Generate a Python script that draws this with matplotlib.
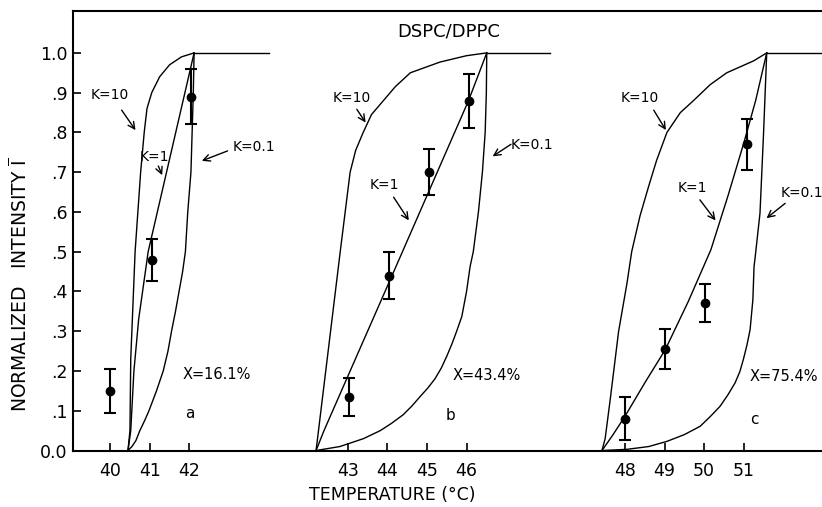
import matplotlib
matplotlib.use("Agg")
import matplotlib.pyplot as plt

# Three panels share one temperature axis; each panel is shifted along it
offset_a, offset_b, offset_c = 0.0, 3.0, 5.0

# Panel a (X = 16.1%): calculated curves for K = 10, 1, 0.1
a_k10_t = [40.45, 40.5, 40.52, 40.63, 40.77, 40.86, 40.93, 41.05, 41.25, 41.5, 41.8, 42.12]
a_k10_i = [0, 0.05, 0.23, 0.5, 0.7, 0.8, 0.86, 0.9, 0.94, 0.97, 0.99, 1.0]
a_k1_t = [40.45, 40.52, 40.6, 40.72, 40.96, 42.12]
a_k1_i = [0, 0.05, 0.2, 0.33, 0.5, 1.0]
a_k01_t = [40.45, 40.55, 40.65, 40.75, 40.87, 40.98, 41.17, 41.34, 41.46, 41.55,
           41.65, 41.74, 41.83, 41.9, 41.96, 42.04, 42.07, 42.1, 42.12]
a_k01_i = [0, 0.01, 0.025, 0.05, 0.075, 0.1, 0.15, 0.2, 0.25, 0.3,
           0.35, 0.4, 0.45, 0.5, 0.6, 0.7, 0.8, 0.9, 1.0]
a_plateau_end = 44.0
a_meas_t = [40.0, 41.05, 42.05]
a_meas_i = [0.15, 0.48, 0.89]
a_meas_err = [0.055, 0.053, 0.07]

# Panel b (X = 43.4%)
b_k10_t = [42.2, 42.81, 43.06, 43.2, 43.39, 43.6, 43.9, 44.2, 44.58, 45.33, 46.0, 46.51]
b_k10_i = [0, 0.5, 0.7, 0.755, 0.8, 0.845, 0.88, 0.915, 0.95, 0.977, 0.993, 1.0]
b_k1_t = [42.2, 42.4, 43.06, 44.03, 45.04, 46.05, 46.51]
b_k1_i = [0, 0.05, 0.2, 0.42, 0.65, 0.88, 1.0]
b_k01_t = [42.2, 42.8, 43.1, 43.4, 43.82, 44.1, 44.4, 44.62, 44.83, 45.02, 45.2, 45.36,
           45.5, 45.63, 45.75, 45.88, 46.0, 46.09, 46.17, 46.3, 46.4, 46.47, 46.5, 46.51]
b_k01_i = [0, 0.01, 0.02, 0.03, 0.05, 0.068, 0.09, 0.112, 0.136, 0.157, 0.18, 0.207,
           0.237, 0.268, 0.3, 0.337, 0.4, 0.463, 0.5, 0.6, 0.7, 0.8, 0.9, 1.0]
b_plateau_end = 48.1
b_meas_t = [43.02, 44.03, 45.04, 46.07]
b_meas_i = [0.135, 0.44, 0.70, 0.88]
b_meas_err = [0.048, 0.06, 0.058, 0.068]

# Panel c (X = 75.4%)
c_k10_t = [47.42, 47.5, 47.63, 47.84, 48.05, 48.17, 48.38, 48.6, 48.8, 49.06, 49.4, 49.73,
           50.15, 50.57, 51.25, 51.58]
c_k10_i = [0, 0.03, 0.13, 0.3, 0.42, 0.5, 0.59, 0.665, 0.73, 0.8, 0.85, 0.88,
           0.92, 0.95, 0.98, 1.0]
c_k1_t = [47.42, 47.7, 48.0, 48.5, 49.02, 49.6, 50.17, 50.6, 51.0, 51.3, 51.58]
c_k1_i = [0, 0.04, 0.086, 0.17, 0.254, 0.375, 0.505, 0.64, 0.773, 0.88, 1.0]
c_k01_t = [47.42, 48.05, 48.6, 49.06, 49.5, 49.9, 50.15, 50.4, 50.6, 50.78, 50.9, 50.99,
           51.08, 51.16, 51.23, 51.26, 51.29, 51.41, 51.5, 51.58]
c_k01_i = [0, 0.003, 0.01, 0.023, 0.04, 0.061, 0.085, 0.111, 0.14, 0.17, 0.198, 0.229,
           0.265, 0.304, 0.379, 0.463, 0.488, 0.597, 0.798, 1.0]
c_plateau_end = 53.0
c_meas_t = [48.0, 49.02, 50.03, 51.08]
c_meas_i = [0.08, 0.255, 0.37, 0.77]
c_meas_err = [0.054, 0.05, 0.048, 0.065]

tick_temps = [40, 41, 42, 43, 44, 45, 46, 48, 49, 50, 51]
tick_offsets = [offset_a] * 3 + [offset_b] * 4 + [offset_c] * 4
y_ticks = [0.0, 0.1, 0.2, 0.3, 0.4, 0.5, 0.6, 0.7, 0.8, 0.9, 1.0]
y_labels = ["0.0", ".1", ".2", ".3", ".4", ".5", ".6", ".7", ".8", ".9", "1.0"]

plt.rcParams["font.family"] = ["DejaVu Sans"]

fig = plt.figure(figsize=(8.22, 5.07), dpi=100)
ax = fig.add_axes([0.0892, 0.1114, 0.911, 0.8666])

lw = 1.0
panels = [
    (offset_a, a_k10_t, a_k10_i, a_k1_t, a_k1_i, a_k01_t, a_k01_i, a_plateau_end,
     a_meas_t, a_meas_i, a_meas_err),
    (offset_b, b_k10_t, b_k10_i, b_k1_t, b_k1_i, b_k01_t, b_k01_i, b_plateau_end,
     b_meas_t, b_meas_i, b_meas_err),
    (offset_c, c_k10_t, c_k10_i, c_k1_t, c_k1_i, c_k01_t, c_k01_i, c_plateau_end,
     c_meas_t, c_meas_i, c_meas_err),
]
for off, k10t, k10i, k1t, k1i, k01t, k01i, pend, mt, mi, me in panels:
    for tt, ii in ((k10t, k10i), (k1t, k1i), (k01t, k01i)):
        ax.plot([t + off for t in tt], ii, color="black", lw=lw)
    ax.plot([k10t[-1] + off, pend + off], [1.0, 1.0], color="black", lw=lw)
    ax.errorbar([t + off for t in mt], mi, yerr=me, fmt="o", color="black",
                ms=6, elinewidth=1.5, capsize=4, capthick=1.5)

# curve labels with arrows: (text, text pos, arrow tail, arrow head)
notes = [
    ("K=10", (40.0, 0.894), (40.25, 0.862), (40.68, 0.80)),
    ("K=1", (41.11, 0.739), (41.19, 0.722), (41.34, 0.686)),
    ("K=0.1", (43.62, 0.764), (43.03, 0.756), (42.25, 0.726)),
    ("K=10", (46.11, 0.887), (46.19, 0.864), (46.49, 0.819)),
    ("K=1", (46.92, 0.668), (47.12, 0.643), (47.58, 0.573)),
    ("K=0.1", (50.64, 0.769), (50.18, 0.774), (49.6, 0.736)),
    ("K=10", (53.38, 0.887), (53.69, 0.862), (54.07, 0.80)),
    ("K=1", (54.70, 0.661), (54.85, 0.636), (55.33, 0.573)),
    ("K=0.1", (57.47, 0.648), (57.1, 0.626), (56.52, 0.58)),
]
for txt, pos, tail, head in notes:
    ax.text(pos[0], pos[1], txt, fontsize=10, ha="center", va="center")
    ax.annotate("", xy=head, xytext=tail,
                arrowprops=dict(arrowstyle="->", color="black", lw=1.0,
                                mutation_scale=12))

ax.text(42.68, 0.191, "X=16.1%", fontsize=10.5, ha="center", va="center")
ax.text(42.0, 0.093, "a", fontsize=11, ha="center", va="center")
ax.text(49.52, 0.188, "X=43.4%", fontsize=10.5, ha="center", va="center")
ax.text(48.59, 0.088, "b", fontsize=11, ha="center", va="center")
ax.text(57.02, 0.186, "X=75.4%", fontsize=10.5, ha="center", va="center")
ax.text(56.26, 0.078, "c", fontsize=11, ha="center", va="center")
ax.text(48.54, 1.053, "DSPC/DPPC", fontsize=13, ha="center", va="center")

ax.set_xlim(39.07, 57.98)
ax.set_ylim(0, 1.105)
ax.set_xticks([t + o for t, o in zip(tick_temps, tick_offsets)])
ax.set_xticklabels([str(t) for t in tick_temps])
ax.set_yticks(y_ticks)
ax.set_yticklabels(y_labels)
ax.tick_params(direction="in", length=6, width=1.2, labelsize=12.5)
ax.tick_params(axis="x", pad=8)
ax.tick_params(axis="y", pad=4)
ax.spines["right"].set_visible(False)
for s in ("left", "bottom", "top"):
    ax.spines[s].set_linewidth(1.5)

fig.text(392 / 822, 1 - 495 / 507, "TEMPERATURE (°C)", fontsize=12.5,
         ha="center", va="center")
fig.text(20 / 822, 1 - 285 / 507, r"NORMALIZED   INTENSITY $\overline{\mathrm{I}}$",
         fontsize=13.5, rotation=90, ha="center", va="center")

fig.savefig("out.png", dpi=100)
